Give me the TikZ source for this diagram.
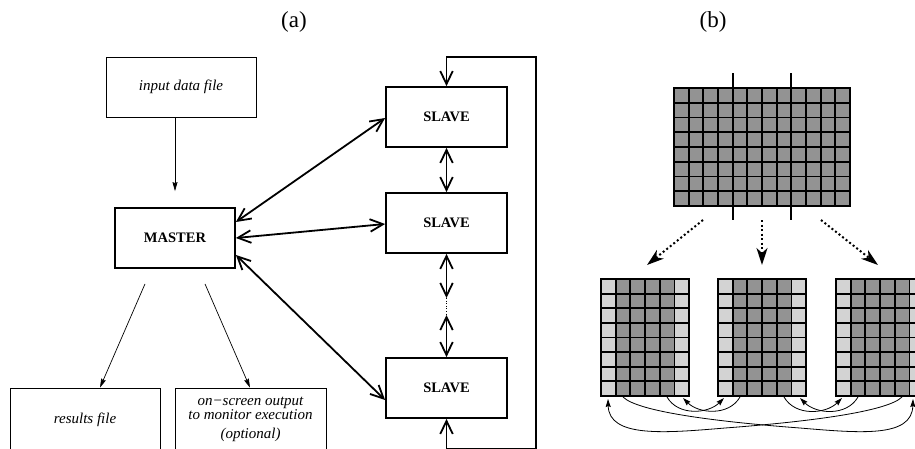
\documentclass[tikz,border=0pt]{standalone}
\usepackage{fontspec}
\setmainfont{Liberation Serif}
\usetikzlibrary{arrows.meta}
\definecolor{cellgray}{RGB}{147,147,147}
\definecolor{ghostgray}{RGB}{211,211,211}

\begin{document}
\begin{tikzpicture}[x=1pt,y=1pt,
  filebox/.style={draw, line width=0.8pt, minimum width=150pt, minimum height=60pt,
    inner sep=0pt, font=\fontsize{15}{17}\selectfont\itshape, align=center},
  procbox/.style={draw, line width=1.8pt, minimum height=60pt, inner sep=0pt,
    font=\fontsize{14.5}{16}\selectfont\bfseries},
  link/.style={line width=1.8pt,
    {Straight Barb[length=13pt,width=12.5pt]}-{Straight Barb[length=13pt,width=12.5pt]}},
  feed/.style={line width=0.7pt, -{Stealth[length=9pt,width=5pt,inset=1pt]}},
  split/.style={line width=2pt, dash pattern=on 2pt off 2.5pt,
    -{Stealth[length=17pt,width=11pt,inset=5pt]}},
  swap/.style={line width=0.8pt, -{Stealth[length=8pt,width=5pt,inset=1pt]}},
  gridline/.style={line width=1.9pt, black},
  caption/.style={font=\fontsize{23}{26}\selectfont},
]
\useasboundingbox (0,0) rectangle (915,-448);

% ---------------- (a) master / slave scheme ----------------
\node[caption] (capa) at (294,-22) {(a)};

\node[filebox] (in) at (181,-87) {input data file};
\node[procbox, minimum width=120pt] (m) at (175,-238) {MASTER};
\node[procbox, minimum width=121pt] (s1) at (446.5,-117) {SLAVE};
\node[procbox, minimum width=121pt] (s2) at (446.5,-223) {SLAVE};
\node[procbox, minimum width=121pt] (s3) at (446.5,-388) {SLAVE};
\node[filebox, minimum height=63pt] (res) at (85,-419.5) {results file};
\node[filebox, minimum width=151pt, minimum height=63pt,
  font=\fontsize{15}{11}\selectfont\itshape]
  (scr) at (250.5,-419.5) {on−screen output\\to monitor execution\\[8pt](optional)};

% input and output flows of the master
\draw[feed] (in.south -| m.north) -- ([yshift=16pt]m.north);
\coordinate (mo1) at ([xshift=-30pt,yshift=-15pt]m.south);
\coordinate (mo2) at ([xshift=30pt,yshift=-15pt]m.south);
\draw[feed] (mo1) -- ([xshift=15pt]res.north);
\draw[feed] (mo2) -- ([xshift=-0.5pt]scr.north);

% master <-> slaves
\draw[link] ([yshift=16pt]m.east) -- ([yshift=-1pt]s1.west);
\draw[link] (m.east) -- ([yshift=-1pt]s2.west);
\draw[link] ([yshift=-17pt]m.east) -- ([yshift=-12pt]s3.west);

% slave chain
\coordinate (d1) at (446.5,-298);
\coordinate (d2) at (446.5,-315);
\draw[link] (s1.south) -- (s2.north);
\draw[link] (s2.south) -- (d1);
\draw[line width=0.6pt, dotted] (d1) -- (d2);
\draw[link] (d2) -- (s3.north);

% ring closure
\coordinate (lt) at (536,-57);
\coordinate (lb) at (536,-448.5);
\draw[link] (s3.south) -- (s3.south |- lb) -- (lb) -- (lt) -- (s1.north |- lt) -- (s1.north);

% ---------------- (b) domain decomposition ----------------
\node[caption] (capb) at (713,-22) {(b)};

% global grid, 12 x 8 cells
\fill[cellgray] (674,-88) rectangle (850,-206);
\foreach \i in {0,...,12} \draw[gridline] (674+\i*14.667,-88) -- (674+\i*14.667,-206);
\foreach \j in {0,...,8} \draw[gridline] (674,-88-\j*14.75) -- (850,-88-\j*14.75);
\draw[gridline] (674,-88) rectangle (850,-206);
\draw[line width=1.9pt] (733,-73) -- (733,-220);
\draw[line width=1.9pt] (791,-73) -- (791,-220);

% split into sub-domains
\coordinate (t1) at (703,-220); \coordinate (b1) at (647,-265);
\coordinate (t2) at (762,-220); \coordinate (b2) at (762,-265);
\coordinate (t3) at (821,-220); \coordinate (b3) at (878,-265);
\draw[split] (t1) -- (b1);
\draw[split] (t2) -- (b2);
\draw[split] (t3) -- (b3);

% sub-domains with ghost columns
\foreach \gx in {601,718,836} {
  \fill[ghostgray] (\gx,-279) rectangle (\gx+88.2,-396);
  \fill[cellgray] (\gx+14.7,-279) rectangle (\gx+73.5,-396);
  \foreach \i in {0,...,6} \draw[gridline] (\gx+\i*14.7,-279) -- (\gx+\i*14.7,-396);
  \foreach \j in {0,...,8} \draw[gridline] (\gx,-279-\j*14.625) -- (\gx+88.2,-279-\j*14.625);
  \draw[line width=2.3pt] (\gx,-279) rectangle (\gx+88.2,-396);
}

% ghost exchange between neighbours
\coordinate (e1a) at (667,-397); \coordinate (e1b) at (724,-398);
\coordinate (e2a) at (740,-397); \coordinate (e2b) at (683,-398);
\coordinate (e3a) at (784,-397); \coordinate (e3b) at (842,-398);
\coordinate (e4a) at (858,-397); \coordinate (e4b) at (800,-398);
\draw[swap] (e1a) to[out=-60,in=-135] (e1b);
\draw[swap] (e2a) to[out=-120,in=-45] (e2b);
\draw[swap] (e3a) to[out=-60,in=-135] (e3b);
\draw[swap] (e4a) to[out=-120,in=-45] (e4b);

% periodic wrap-around
\coordinate (w1a) at (623,-397); \coordinate (w1b) at (913,-399);
\coordinate (w2a) at (902,-397); \coordinate (w2b) at (608,-399);
\draw[swap] (w1a) .. controls (638,-412) and (720,-422) .. (800,-428)
  .. controls (860,-433) and (912,-438) .. (w1b);
\draw[swap] (w2a) .. controls (887,-412) and (805,-422) .. (725,-428)
  .. controls (665,-433) and (609,-438) .. (w2b);
\end{tikzpicture}
\end{document}
